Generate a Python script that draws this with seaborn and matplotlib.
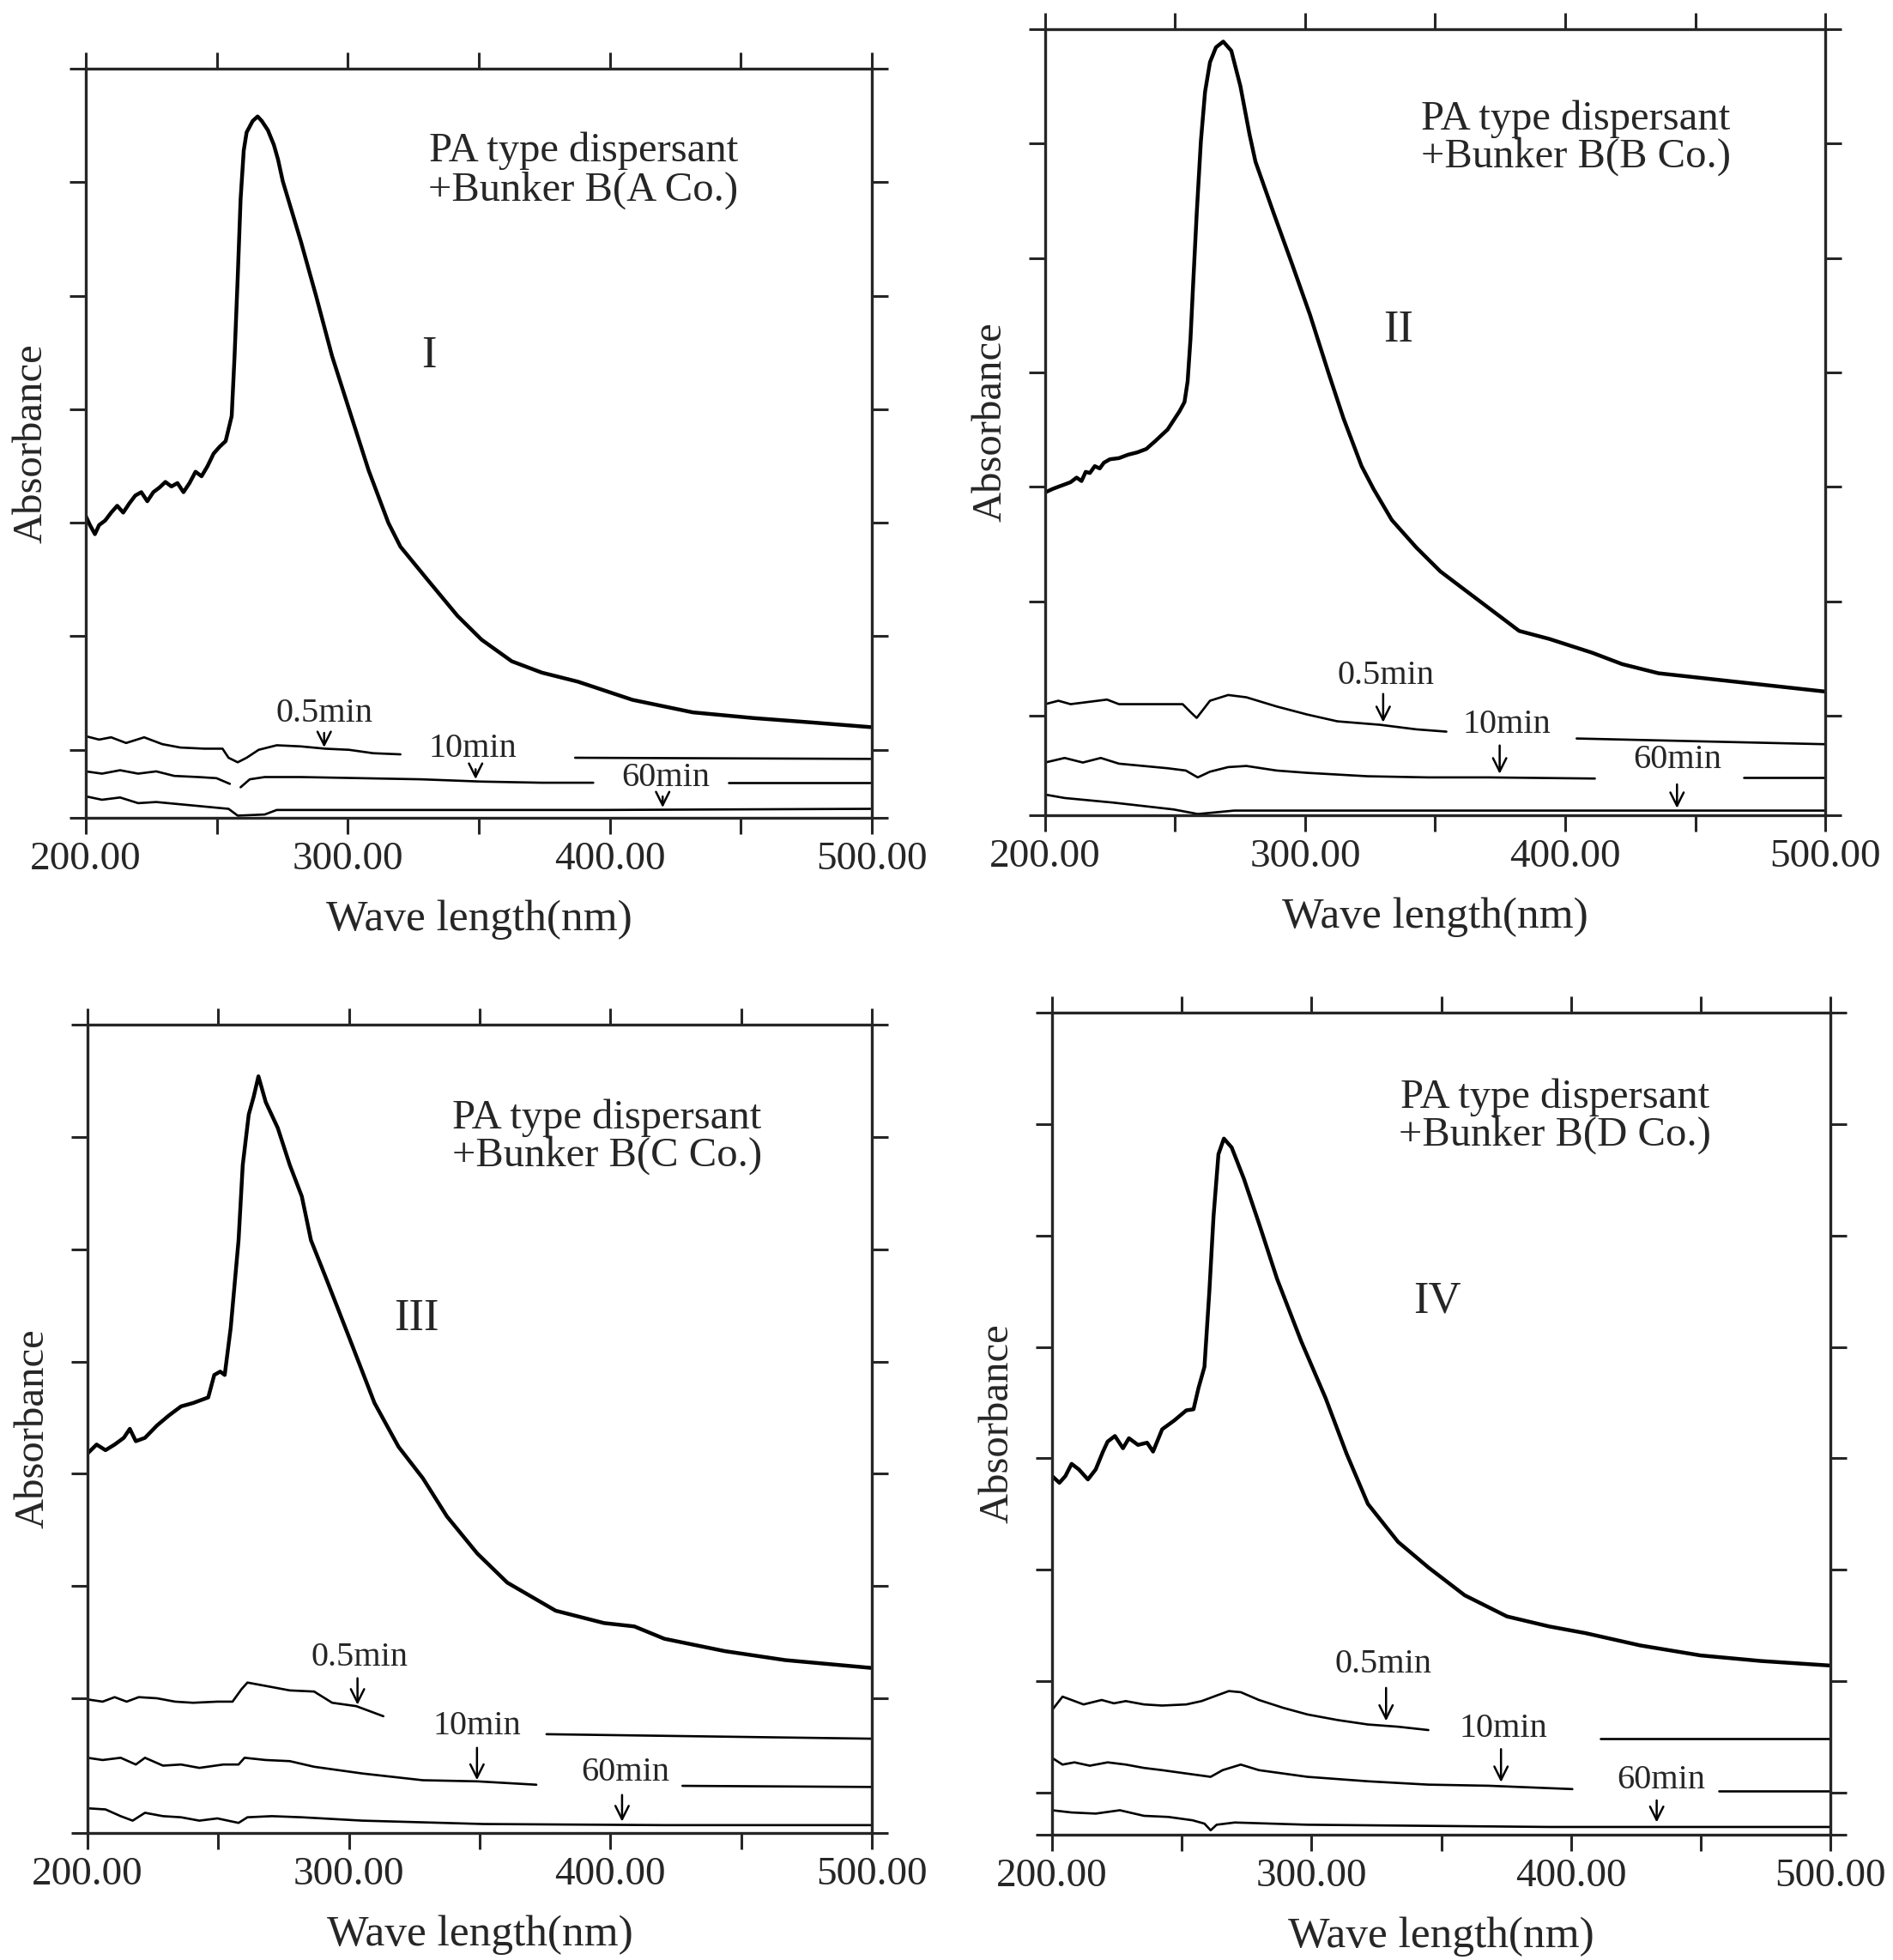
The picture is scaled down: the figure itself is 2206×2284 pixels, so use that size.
import numpy as np
import pandas as pd
import matplotlib
matplotlib.use("Agg")
import matplotlib.pyplot as plt
import seaborn as sns

# ---------------- data (y in arbitrary absorbance units) -------------
# panel I  (A Co.)
wl_main_1 = [200.0, 201.6, 203.5, 205.1, 207.4, 209.7, 212.0, 214.3, 216.6, 218.9, 221.2, 223.5, 225.8,
             228.1, 230.4, 232.7, 235.0, 237.3, 239.6, 241.9, 244.2, 246.5, 248.8, 251.1, 253.4, 255.7,
             256.8, 258.0, 259.1, 260.3, 261.4, 263.7, 265.6, 267.2, 269.5, 271.8, 273.4, 275.2, 282.1,
             287.9, 294.0, 300.5, 308.0, 315.5, 320.1, 330.4, 341.9, 351.1, 362.6, 374.1, 387.9, 408.7,
             431.7, 454.7, 477.7, 499.5]
abs_main_1 = [2.66, 2.58, 2.50, 2.58, 2.62, 2.69, 2.75, 2.69, 2.77, 2.84, 2.87, 2.79, 2.87,
              2.91, 2.96, 2.92, 2.95, 2.87, 2.95, 3.05, 3.01, 3.10, 3.21, 3.27, 3.32, 3.54,
              4.07, 4.76, 5.45, 5.88, 6.04, 6.14, 6.18, 6.14, 6.06, 5.93, 5.80, 5.61, 5.08,
              4.60, 4.07, 3.60, 3.06, 2.60, 2.39, 2.10, 1.78, 1.57, 1.38, 1.28, 1.20, 1.04,
              0.93, 0.88, 0.84, 0.80]
wl_05_1 = [200.0, 205.1, 209.7, 215.4, 222.3, 229.2, 236.1, 245.3, 252.2, 254.5, 258.0, 261.4, 266.0,
           272.9, 282.1, 291.3, 300.5, 309.7, 320.1, None, 386.8, 499.5]
abs_05_1 = [0.72, 0.69, 0.71, 0.66, 0.71, 0.65, 0.62, 0.61, 0.61, 0.53, 0.49, 0.53, 0.60,
            0.64, 0.63, 0.61, 0.60, 0.57, 0.56, None, 0.53, 0.52]
wl_10_1 = [200.0, 206.2, 213.1, 220.0, 226.9, 233.8, 243.0, 249.9, 255.0, None, 259.1, 262.6, 268.3,
           282.1, 305.1, 328.1, 351.1, 374.1, 393.7, None, 445.5, 499.5]
abs_10_1 = [0.41, 0.39, 0.42, 0.39, 0.41, 0.37, 0.36, 0.35, 0.30, None, 0.27, 0.34, 0.36,
            0.36, 0.35, 0.34, 0.32, 0.31, 0.31, None, 0.31, 0.31]
wl_60_1 = [200.0, 206.2, 213.1, 220.0, 226.9, 236.1, 245.3, 254.5, 258.0, 268.3, 272.9, 328.1, 397.1, 499.5]
abs_60_1 = [0.19, 0.16, 0.18, 0.13, 0.14, 0.12, 0.10, 0.08, 0.02, 0.03, 0.07, 0.07, 0.07, 0.08]

# panel II  (B Co.)
wl_main_2 = [200.0, 202.8, 205.1, 207.5, 209.8, 212.1, 214.0, 215.6, 217.2, 219.1, 221.0, 222.6, 224.9,
             228.4, 231.9, 235.4, 238.9, 242.4, 247.1, 251.7, 253.6, 254.8, 255.9, 256.9, 258.3, 259.9,
             261.5, 263.4, 265.7, 268.5, 271.6, 275.1, 278.6, 280.9, 287.9, 294.9, 301.9, 308.9, 314.7,
             321.7, 326.3, 333.3, 342.7, 352.0, 361.3, 368.3, 382.3, 393.9, 410.3, 421.9, 435.9, 463.9, 500.0]
abs_main_2 = [2.82, 2.85, 2.87, 2.89, 2.91, 2.95, 2.92, 3.00, 2.99, 3.05, 3.03, 3.08, 3.11,
              3.12, 3.15, 3.17, 3.20, 3.27, 3.37, 3.53, 3.61, 3.79, 4.16, 4.63, 5.26, 5.89,
              6.32, 6.58, 6.71, 6.76, 6.68, 6.37, 5.95, 5.71, 5.26, 4.82, 4.37, 3.87, 3.47,
              3.05, 2.85, 2.58, 2.34, 2.13, 1.97, 1.85, 1.61, 1.54, 1.42, 1.32, 1.24, 1.17, 1.08]
wl_05_2 = [200.0, 205.1, 209.8, 216.8, 223.8, 228.4, 237.8, 247.1, 252.9, 256.4, 258.3, 263.4, 270.4,
           277.4, 289.0, 300.7, 312.4, 328.7, 342.7, 354.3, None, 404.4, 500.0]
abs_05_2 = [0.97, 1.00, 0.97, 0.99, 1.01, 0.97, 0.97, 0.97, 0.97, 0.89, 0.85, 1.00, 1.05,
            1.03, 0.95, 0.88, 0.82, 0.79, 0.75, 0.73, None, 0.67, 0.62]
wl_10_2 = [200.0, 207.5, 214.5, 221.4, 228.4, 237.8, 247.1, 254.1, 258.7, 263.4, 270.4, 277.4, 289.0,
           300.7, 324.0, 347.3, 370.6, 411.4, None, 468.5, 500.0]
abs_10_2 = [0.46, 0.50, 0.46, 0.50, 0.45, 0.43, 0.41, 0.39, 0.33, 0.38, 0.42, 0.43, 0.39,
            0.37, 0.34, 0.33, 0.33, 0.32, None, 0.33, 0.33]
wl_60_2 = [200.0, 207.5, 216.8, 226.1, 237.8, 249.4, 254.1, 258.7, 272.7, 300.7, 393.9, 500.0]
abs_60_2 = [0.18, 0.15, 0.13, 0.11, 0.08, 0.05, 0.03, 0.01, 0.04, 0.04, 0.04, 0.04]

# panel III  (C Co.)
wl_main_3 = [200.0, 203.5, 206.9, 210.4, 213.9, 216.2, 218.5, 222.0, 226.6, 231.2, 235.8, 240.4, 246.2,
             248.5, 250.8, 252.5, 254.8, 257.8, 259.4, 261.7, 263.6, 265.4, 268.2, 272.8, 277.4, 282.0,
             285.5, 291.3, 300.5, 309.8, 319.0, 328.3, 337.5, 349.1, 360.6, 379.1, 397.6, 409.2, 420.7,
             443.8, 466.9, 500.0]
abs_main_3 = [3.38, 3.46, 3.41, 3.46, 3.52, 3.60, 3.49, 3.52, 3.63, 3.72, 3.80, 3.83, 3.88,
              4.08, 4.11, 4.08, 4.50, 5.28, 5.95, 6.40, 6.56, 6.74, 6.51, 6.28, 5.95, 5.67,
              5.28, 4.94, 4.39, 3.83, 3.44, 3.16, 2.82, 2.49, 2.23, 1.98, 1.87, 1.84, 1.73,
              1.62, 1.54, 1.47]
wl_05_3 = [200.0, 205.8, 210.4, 215.0, 219.6, 226.6, 233.5, 240.4, 249.7, 255.5, 258.9, 261.2, 268.2,
           277.4, 286.7, 293.6, 302.8, 313.2, None, 375.6, 500.0]
abs_05_3 = [1.19, 1.17, 1.21, 1.17, 1.21, 1.20, 1.17, 1.16, 1.17, 1.17, 1.28, 1.34, 1.31,
            1.27, 1.26, 1.16, 1.13, 1.04, None, 0.88, 0.84]
wl_10_3 = [200.0, 205.8, 212.7, 218.5, 222.0, 228.9, 235.8, 242.8, 252.0, 257.8, 260.1, 268.2, 277.4,
           286.7, 305.2, 328.3, 349.1, 371.7, None, 427.6, 500.0]
abs_10_3 = [0.67, 0.65, 0.67, 0.61, 0.67, 0.60, 0.61, 0.58, 0.61, 0.61, 0.67, 0.65, 0.64,
            0.59, 0.53, 0.47, 0.46, 0.43, None, 0.42, 0.41]
wl_60_3 = [200.0, 206.9, 212.7, 217.3, 222.0, 228.9, 235.8, 242.8, 249.7, 257.8, 261.2, 270.5, 282.0,
           305.2, 351.4, 420.7, 500.0]
abs_60_3 = [0.22, 0.21, 0.15, 0.11, 0.18, 0.15, 0.14, 0.11, 0.13, 0.09, 0.14, 0.15, 0.14,
            0.11, 0.08, 0.07, 0.07]

# panel IV  (D Co.)
wl_main_4 = [200.0, 202.8, 205.1, 207.5, 210.3, 213.8, 216.8, 219.6, 221.4, 224.2, 227.3, 229.6, 233.1,
             236.6, 238.9, 242.4, 247.1, 251.7, 254.5, 256.4, 258.7, 260.6, 262.2, 264.1, 266.2, 269.2,
             273.9, 279.7, 286.7, 296.0, 305.4, 313.5, 321.7, 333.3, 345.0, 359.0, 375.3, 391.6, 405.6,
             426.6, 449.9, 473.2, 499.3]
abs_main_4 = [3.22, 3.16, 3.22, 3.33, 3.28, 3.19, 3.28, 3.44, 3.53, 3.58, 3.47, 3.56, 3.50,
              3.52, 3.44, 3.64, 3.72, 3.81, 3.82, 4.01, 4.20, 4.88, 5.55, 6.11, 6.25, 6.17,
              5.89, 5.49, 4.99, 4.43, 3.92, 3.42, 2.97, 2.63, 2.40, 2.15, 1.96, 1.87, 1.81,
              1.70, 1.61, 1.56, 1.52]
wl_05_4 = [200.0, 204.0, 207.5, 212.1, 219.1, 223.8, 228.4, 235.4, 242.4, 251.7, 257.6, 263.4, 268.1,
           272.7, 279.7, 289.0, 298.4, 310.0, 321.7, 333.3, 345.0, None, 411.4, 500.0]
abs_05_4 = [1.12, 1.24, 1.21, 1.17, 1.21, 1.18, 1.20, 1.17, 1.16, 1.17, 1.20, 1.25, 1.29,
            1.28, 1.21, 1.14, 1.08, 1.03, 0.99, 0.97, 0.94, None, 0.86, 0.86]
wl_10_4 = [200.0, 204.0, 208.6, 214.5, 221.4, 228.4, 235.4, 242.4, 251.7, 261.1, 265.7, 272.7, 279.7,
           298.4, 321.7, 345.0, 368.3, 400.5, None, 456.9, 500.0]
abs_10_4 = [0.69, 0.63, 0.65, 0.62, 0.65, 0.63, 0.60, 0.58, 0.55, 0.52, 0.58, 0.63, 0.58,
            0.52, 0.48, 0.45, 0.44, 0.41, None, 0.39, 0.39]
wl_60_4 = [200.0, 207.5, 216.8, 226.1, 235.4, 244.8, 254.1, 258.7, 261.1, 263.4, 270.4, 298.4, 391.6, 500.0]
abs_60_4 = [0.22, 0.20, 0.19, 0.22, 0.17, 0.16, 0.13, 0.10, 0.04, 0.09, 0.11, 0.09, 0.07, 0.07]

companies = ["A Co.", "B Co.", "C Co.", "D Co."]
numerals = ["I", "II", "III", "IV"]
time_labels = ["0.5min", "10min", "60min"]

x_ticks = [200, 250, 300, 350, 400, 450, 500]
x_ticklabels = ["200.00", "", "300.00", "", "400.00", "", "500.00"]


def make_df(wl, ab):
    # split a series into segments at the None gaps
    rows = []
    seg = 0
    for w, a in zip(wl, ab):
        if w is None:
            seg += 1
            continue
        rows.append((w, a, seg))
    return pd.DataFrame(rows, columns=["wl", "A", "seg"])


def draw_panel(ax, main, times, ymax, company, numeral, text_pos, num_pos, lab_pos, arrows):
    sns.lineplot(data=make_df(*main), x="wl", y="A", ax=ax, color="black", lw=3.2,
                 estimator=None, sort=False)
    for wl, ab in times:
        sns.lineplot(data=make_df(wl, ab), x="wl", y="A", units="seg", ax=ax, color="black",
                     lw=1.9, estimator=None, sort=False)

    ax.set_xlim(200, 500)
    ax.set_ylim(0, ymax)
    ax.set_xticks(x_ticks)
    ax.set_xticklabels(x_ticklabels)
    yt = [0] + [ymax - k for k in range(int(ymax) + 1) if ymax - k > 0.3]
    ax.set_yticks(yt)
    ax.set_yticklabels([])
    ax.tick_params(which="both", direction="out", top=True, right=True, length=14, width=2.2,
                   labelsize=34, pad=6)
    for s in ax.spines.values():
        s.set_linewidth(2.4)
        s.set_visible(True)
    ax.set_xlabel("Wave length(nm)", fontsize=37, labelpad=18)
    ax.set_ylabel("Absorbance", fontsize=35, labelpad=10)

    ax.text(text_pos[0], text_pos[1], "PA type dispersant", fontsize=35, ha="center", va="center")
    ax.text(text_pos[0], text_pos[2], "+Bunker B(" + company + ")", fontsize=35,
            ha="center", va="center")
    ax.text(num_pos[0], num_pos[1], numeral, fontsize=38, ha="center", va="center")

    for lab, (tx, ty), (axx, y0, y1) in zip(time_labels, lab_pos, arrows):
        ax.text(tx, ty, lab, fontsize=29, ha="center", va="center")
        ax.annotate("", xy=(axx, y1), xytext=(axx, y0),
                    arrowprops=dict(arrowstyle="->", lw=1.8, color="black",
                                    mutation_scale=28))


sns.set_style("ticks")
plt.rcParams["font.family"] = ["Liberation Serif", "DejaVu Serif"]

fig = plt.figure(figsize=(22.06, 22.84), dpi=100)
ax1 = fig.add_axes([0.0453, 0.5827, 0.4152, 0.3822])
ax2 = fig.add_axes([0.5521, 0.5841, 0.4121, 0.4011])
ax3 = fig.add_axes([0.0462, 0.0648, 0.4143, 0.4124])
ax4 = fig.add_axes([0.5558, 0.0639, 0.4112, 0.4194])

draw_panel(ax1, (wl_main_1, abs_main_1),
           [(wl_05_1, abs_05_1), (wl_10_1, abs_10_1), (wl_60_1, abs_60_1)],
           6.6, companies[0], numerals[0], (390, 5.88, 5.53), (331, 4.07),
           [(291, 0.92), (347.7, 0.61), (421.3, 0.35)],
           [(291, 0.77, 0.60), (348.8, 0.45, 0.32), (420.2, 0.21, 0.07)])
draw_panel(ax2, (wl_main_2, abs_main_2),
           [(wl_05_2, abs_05_2), (wl_10_2, abs_10_2), (wl_60_2, abs_60_2)],
           6.87, companies[1], numerals[1], (404, 6.08, 5.75), (336, 4.24),
           [(331, 1.22), (377.6, 0.79), (443.2, 0.48)],
           [(330, 1.08, 0.79), (374.8, 0.63, 0.34), (443, 0.29, 0.04)])
draw_panel(ax3, (wl_main_3, abs_main_3),
           [(wl_05_3, abs_05_3), (wl_10_3, abs_10_3), (wl_60_3, abs_60_3)],
           7.2, companies[2], numerals[2], (398.8, 6.37, 6.03), (326, 4.58),
           [(304, 1.56), (349, 0.95), (405.7, 0.54)],
           [(303.3, 1.40, 1.12), (349, 0.78, 0.45), (404.5, 0.36, 0.08)])
draw_panel(ax4, (wl_main_4, abs_main_4),
           [(wl_05_4, abs_05_4), (wl_10_4, abs_10_4), (wl_60_4, abs_60_4)],
           7.38, companies[3], numerals[3], (393.9, 6.62, 6.28), (348.5, 4.79),
           [(327.5, 1.53), (374, 0.955), (434.7, 0.49)],
           [(328.7, 1.34, 1.00), (373, 0.79, 0.45), (433, 0.33, 0.09)])

fig.savefig("out.png", dpi=100)
